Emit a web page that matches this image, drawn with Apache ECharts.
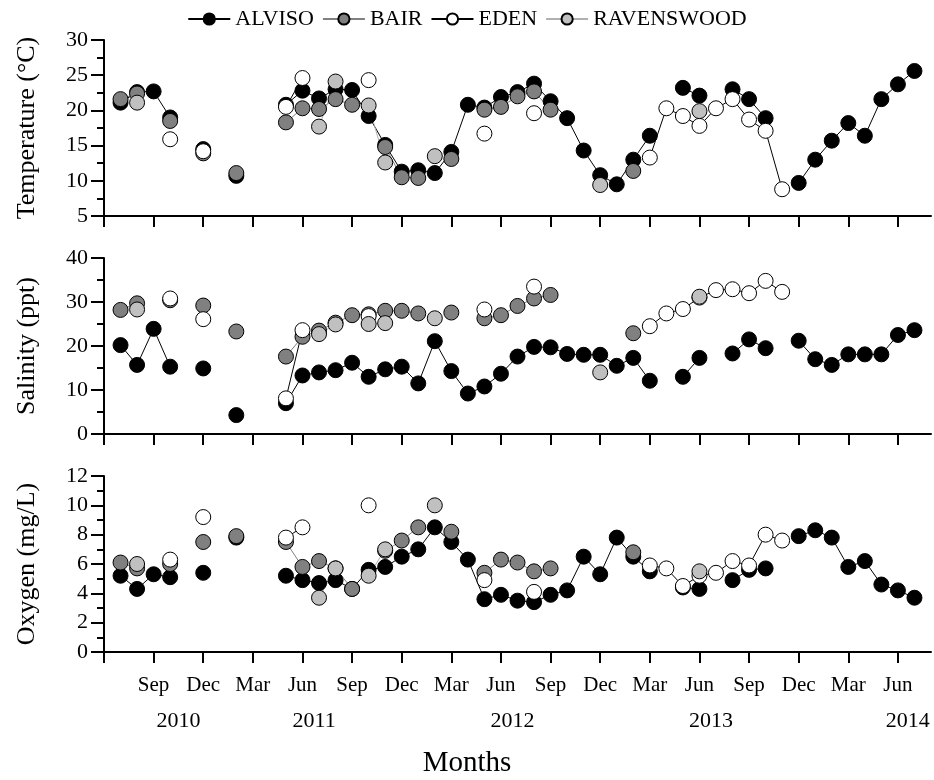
<!DOCTYPE html>
<html>
<head>
<meta charset="utf-8">
<script src="https://cdn.jsdelivr.net/npm/echarts@6/dist/echarts.min.js"></script>
<style>
  html, body { margin: 0; background: #fff; }
  #chart { width: 934px; height: 780px; }
</style>
</head>
<body>
<div id="chart"></div>
<script>
// one category per month, Jun 2010 .. Aug 2014
const months = [
  'Jun 2010', 'Jul 2010', 'Aug 2010', 'Sep 2010', 'Oct 2010', 'Nov 2010', 'Dec 2010', 'Jan 2011', 'Feb 2011', 'Mar 2011', 'Apr 2011', 'May 2011',
  'Jun 2011', 'Jul 2011', 'Aug 2011', 'Sep 2011', 'Oct 2011', 'Nov 2011', 'Dec 2011', 'Jan 2012', 'Feb 2012', 'Mar 2012', 'Apr 2012', 'May 2012',
  'Jun 2012', 'Jul 2012', 'Aug 2012', 'Sep 2012', 'Oct 2012', 'Nov 2012', 'Dec 2012', 'Jan 2013', 'Feb 2013', 'Mar 2013', 'Apr 2013', 'May 2013',
  'Jun 2013', 'Jul 2013', 'Aug 2013', 'Sep 2013', 'Oct 2013', 'Nov 2013', 'Dec 2013', 'Jan 2014', 'Feb 2014', 'Mar 2014', 'Apr 2014', 'May 2014',
  'Jun 2014', 'Jul 2014', 'Aug 2014'
]
const sites = ['ALVISO', 'BAIR', 'EDEN', 'RAVENSWOOD']
const yearLabels = ['2010', '2011', '2012', '2013', '2014']
const yearLabelPos = [4.5, 12.7, 24.7, 36.7, 48.6] // in months from Jun 2010

// Temperature (°C)
const alvisoTemp = [
  null, 21.1, 22.6, 22.7, 19.0, null, 14.5, null, 10.7, null, null, 20.8,
  22.8, 21.7, 23.0, 22.9, 19.2, 15.1, 11.3, 11.5, 11.1, 14.1, 20.8, 20.4,
  21.9, 22.6, 23.8, 21.3, 18.9, 14.3, 10.8, 9.5, 13.0, 16.4, null, 23.2,
  22.1, null, 23.0, 21.6, 18.9, null, 9.7, 13.0, 15.7, 18.2, 16.4, 21.6,
  23.7, 25.6, null
]
const bairTemp = [
  null, 21.6, 22.4, null, 18.5, null, 13.9, null, 11.1, null, null, 18.3,
  20.3, 20.2, 21.6, 20.8, null, 14.8, 10.5, 10.4, null, 13.1, null, 20.1,
  20.5, 22.0, 22.7, 20.1, null, null, null, null, 11.4, null, null, null,
  null, null, null, null, null, null, null, null, null, null, null, null,
  null, null, null
]
const edenTemp = [
  null, null, null, null, 15.9, null, 14.2, null, null, null, null, 20.5,
  24.6, null, null, null, 24.3, null, null, null, null, null, null, 16.7,
  null, null, 19.6, null, null, null, null, null, null, 13.3, 20.3, 19.2,
  17.8, 20.3, 21.6, 18.7, 17.1, 8.8, null, null, null, null, null, null,
  null, null, null
]
const ravTemp = [
  null, null, 21.1, null, null, null, null, null, null, null, null, null,
  null, 17.7, 24.1, null, 20.7, 12.6, null, null, 13.5, null, null, null,
  null, null, null, null, null, null, 9.4, null, null, null, null, null,
  19.9, null, null, null, null, null, null, null, null, null, null, null,
  null, null, null
]

// Salinity (ppt)
const alvisoSal = [
  null, 20.2, 15.7, 23.9, 15.3, null, 14.9, null, 4.3, null, null, 7.0,
  13.3, 14.0, 14.5, 16.2, 13.0, 14.7, 15.3, 11.5, 21.1, 14.3, 9.2, 10.8,
  13.7, 17.6, 19.8, 19.7, 18.2, 18.0, 18.0, 15.5, 17.3, 12.1, null, 13.0,
  17.3, null, 18.3, 21.5, 19.5, null, 21.2, 17.0, 15.7, 18.1, 18.1, 18.1,
  22.5, 23.6, null
]
const bairSal = [
  null, 28.2, 29.7, null, 30.4, null, 29.2, null, 23.3, null, null, 17.6,
  22.1, 23.5, 25.3, 27.0, 27.2, 28.0, 28.0, 27.4, null, 27.6, null, 26.3,
  27.0, 29.1, 30.8, 31.6, null, null, null, null, 22.9, null, null, null,
  null, null, null, null, null, null, null, null, null, null, null, null,
  null, null, null
]
const edenSal = [
  null, null, null, null, 30.8, null, 26.1, null, null, null, null, 8.1,
  23.6, null, null, null, 26.8, null, null, null, null, null, null, 28.3,
  null, null, 33.5, null, null, null, null, null, null, 24.5, 27.4, 28.4,
  31.0, 32.7, 32.9, 32.0, 34.8, 32.3, null, null, null, null, null, null,
  null, null, null
]
const ravSal = [
  null, null, 28.3, null, null, null, null, null, null, null, null, null,
  null, 22.7, 24.9, null, 25.0, 25.2, null, null, 26.3, null, null, null,
  null, null, null, null, null, null, 14.0, null, null, null, null, null,
  31.2, null, null, null, null, null, null, null, null, null, null, null,
  null, null, null
]

// Oxygen (mg/L)
const alvisoOxy = [
  null, 5.2, 4.3, 5.3, 5.1, null, 5.4, null, 7.8, null, null, 5.2,
  4.9, 4.7, 4.9, 4.3, 5.6, 5.8, 6.5, 7.0, 8.5, 7.5, 6.3, 3.6,
  3.9, 3.5, 3.4, 3.9, 4.2, 6.5, 5.3, 7.8, 6.5, 5.5, null, 4.4,
  4.3, null, 4.9, 5.6, 5.7, null, 7.9, 8.3, 7.8, 5.8, 6.2, 4.6,
  4.2, 3.7, null
]
const bairOxy = [
  null, 6.1, 5.7, null, 6.0, null, 7.5, null, 7.9, null, null, 7.5,
  5.8, 6.2, 5.7, 4.3, null, 6.9, 7.6, 8.5, null, 8.2, null, 5.4,
  6.3, 6.1, 5.5, 5.7, null, null, null, null, 6.8, null, null, null,
  null, null, null, null, null, null, null, null, null, null, null, null,
  null, null, null
]
const edenOxy = [
  null, null, null, null, 6.3, null, 9.2, null, null, null, null, 7.8,
  8.5, null, null, null, 10.0, null, null, null, null, null, null, 4.9,
  null, null, 4.1, null, null, null, null, null, null, 5.9, 5.7, 4.5,
  5.2, 5.4, 6.2, 5.9, 8.0, 7.6, null, null, null, null, null, null,
  null, null, null
]
const ravOxy = [
  null, null, 6.0, null, null, null, null, null, null, null, null, null,
  null, 3.7, 5.7, null, 5.2, 7.0, null, null, 10.0, null, null, null,
  null, null, null, null, null, null, null, null, null, null, null, null,
  5.5, null, null, null, null, null, null, null, null, null, null, null,
  null, null, null
]

const FONT = 'Liberation Serif'
const fillColor = { ALVISO: '#000', BAIR: '#808080', EDEN: '#fff', RAVENSWOOD: '#c0c0c0' }
const lineColor = { ALVISO: '#000', BAIR: '#808080', EDEN: '#000', RAVENSWOOD: '#b0b0b0' }

const panels = [
  { name: 'Temperature (°C)', min: 5, max: 30, interval: 5, top: 40, data: [alvisoTemp, bairTemp, edenTemp, ravTemp] },
  { name: 'Salinity (ppt)', min: 0, max: 40, interval: 10, top: 258, data: [alvisoSal, bairSal, edenSal, ravSal] },
  { name: 'Oxygen (mg/L)', min: 0, max: 12, interval: 2, top: 476, data: [alvisoOxy, bairOxy, edenOxy, ravOxy] }
]
const GRID_LEFT = 104
const GRID_RIGHT = 3
const GRID_H = 176

const chart = echarts.init(document.getElementById('chart'), null, { renderer: 'canvas' })

const every3 = (i) => i % 3 === 0

const option = {
  animation: false,
  backgroundColor: '#fff',
  legend: {
    data: sites,
    top: 3,
    left: 'center',
    itemWidth: 42,
    itemHeight: 14,
    itemGap: 8,
    textStyle: { fontFamily: FONT, fontSize: 22, color: '#000' }
  },
  grid: panels.map(p => ({ left: GRID_LEFT, right: GRID_RIGHT, top: p.top, height: GRID_H })),
  xAxis: panels.map((p, i) => ({
    type: 'category',
    gridIndex: i,
    data: months,
    boundaryGap: false,
    axisLine: { onZero: false, lineStyle: { color: '#000', width: 2 } },
    axisTick: { interval: every3, length: 11, lineStyle: { color: '#000', width: 2 } },
    axisLabel: {
      show: i === 2,
      interval: (idx) => idx % 3 === 0 && idx > 0,
      formatter: v => v.split(' ')[0],
      fontFamily: FONT,
      fontSize: 21,
      color: '#000',
      margin: 23
    },
    splitLine: { show: false }
  })),
  yAxis: panels.map((p, i) => ({
    type: 'value',
    gridIndex: i,
    min: p.min,
    max: p.max,
    interval: p.interval,
    name: p.name,
    nameLocation: 'middle',
    nameGap: 64,
    nameTextStyle: { fontFamily: FONT, fontSize: 26, color: '#000' },
    axisLine: { show: true, lineStyle: { color: '#000', width: 2 } },
    axisTick: { show: true, length: 13, lineStyle: { color: '#000', width: 2 } },
    minorTick: { show: true, splitNumber: 2, length: 7, lineStyle: { color: '#000', width: 2 } },
    axisLabel: { fontFamily: FONT, fontSize: 22, color: '#000', margin: 16 },
    splitLine: { show: false }
  })),
  series: [],
  graphic: []
}

panels.forEach((p, pi) => {
  sites.forEach((site, si) => {
    option.series.push({
      name: site,
      type: 'line',
      xAxisIndex: pi,
      yAxisIndex: pi,
      data: p.data[si],
      connectNulls: false,
      symbol: 'circle',
      symbolSize: 15,
      showAllSymbol: true,
      itemStyle: { color: fillColor[site], borderColor: '#000', borderWidth: 1 },
      lineStyle: { color: lineColor[site], width: 1 },
      emphasis: { disabled: true }
    })
  })
})

// year captions under the month labels
const plotW = 934 - GRID_LEFT - GRID_RIGHT
yearLabels.forEach((y, i) => {
  option.graphic.push({
    type: 'text',
    x: GRID_LEFT + yearLabelPos[i] / (months.length - 1) * plotW,
    y: 721,
    style: { text: y, font: '22px "' + FONT + '"', fill: '#000', align: 'center', verticalAlign: 'middle' }
  })
})
option.graphic.push({
  type: 'text',
  left: 'center',
  top: 749,
  style: { text: 'Months', font: '29px "' + FONT + '"', fill: '#000' }
})

chart.setOption(option)
</script>
</body>
</html>
